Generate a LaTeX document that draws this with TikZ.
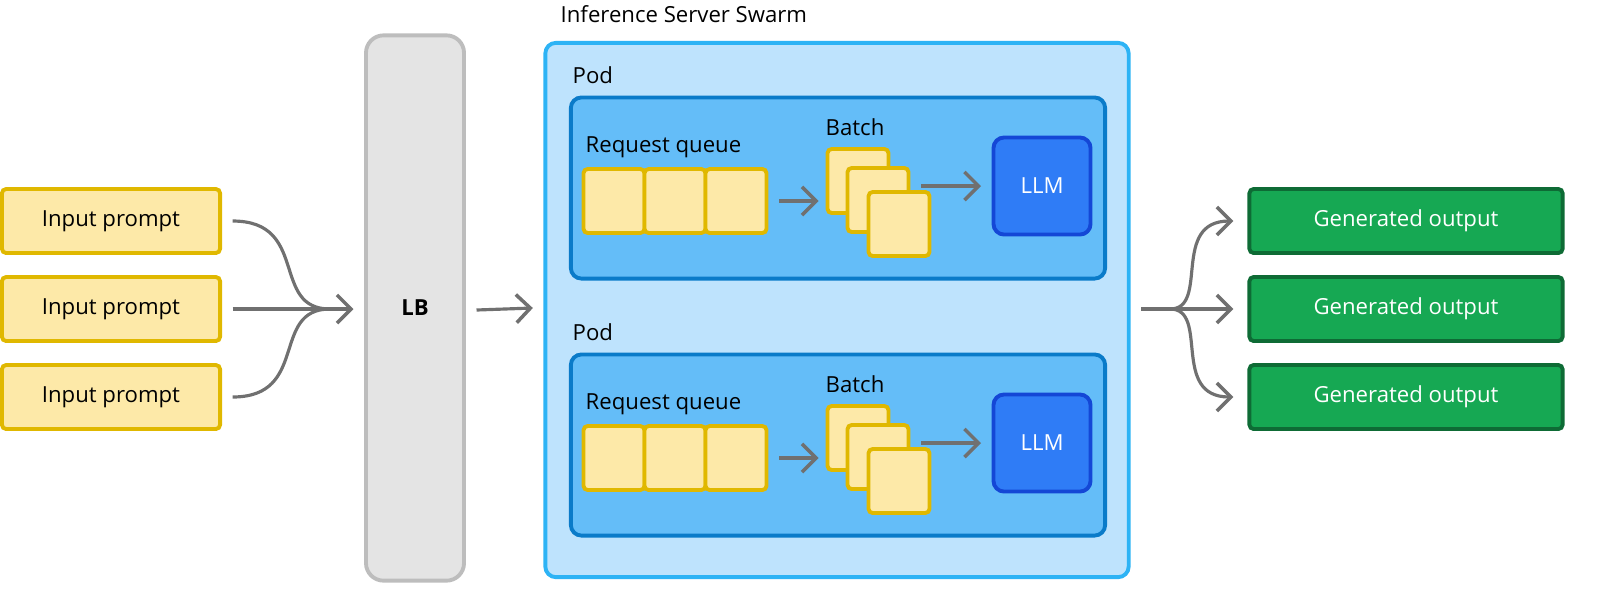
\documentclass[tikz,border=0pt]{standalone}
\usepackage{fontspec}
\setmainfont{Open Sans}
\usetikzlibrary{arrows.meta}
\definecolor{ylwfill}{HTML}{FDE9A8}
\definecolor{ylwdraw}{HTML}{E0B800}
\definecolor{lbfill}{HTML}{E4E4E4}
\definecolor{lbdraw}{HTML}{BDBDBD}
\definecolor{swfill}{HTML}{BEE3FD}
\definecolor{swdraw}{HTML}{2DB3F5}
\definecolor{podfill}{HTML}{64BDF8}
\definecolor{poddraw}{HTML}{0A7BC9}
\definecolor{llmfill}{HTML}{2F7CF6}
\definecolor{llmdraw}{HTML}{1447D6}
\definecolor{outfill}{HTML}{16A853}
\definecolor{outdraw}{HTML}{0E6B35}
\definecolor{connclr}{HTML}{707070}
\tikzset{
  box/.style={draw, line width=1.1pt, rounded corners=1.2pt, inner sep=0pt, font=\fontsize{6.3}{8}\selectfont},
  prompt/.style={box, fill=ylwfill, draw=ylwdraw, minimum width=2.18cm, minimum height=0.64cm},
  cell/.style={box, fill=ylwfill, draw=ylwdraw, minimum width=0.61cm, minimum height=0.64cm},
  output/.style={box, fill=outfill, draw=outdraw, text=white, minimum width=3.13cm, minimum height=0.64cm},
  conn/.style={draw=connclr, line width=0.9pt},
  arr/.style={conn, -{Straight Barb[length=4pt,width=8pt,line width=1pt]}},
  lbl/.style={font=\fontsize{6.3}{8}\selectfont, anchor=west, inner sep=0pt}
}
\begin{document}
\begin{tikzpicture}[x=0.01cm,y=-0.01cm]
  % Inputs and load balancer
  \foreach \i/\y in {1/221,2/309,3/397} {
    \node [prompt] (in\i) at (111,\y) {Input prompt};
  }
  \node [box, fill=lbfill, draw=lbdraw, rounded corners=5pt, minimum width=0.98cm, minimum height=5.45cm] (lb) at (415,308) {\bfseries LB};
  \coordinate (merge) at (330,309);

  % Swarm
  \node [box, fill=swfill, draw=swdraw, rounded corners=3pt, minimum width=5.83cm, minimum height=5.34cm] (swarm) at (837,310) {};
  \node [lbl] (swarmlbl) at (560,14) {Inference Server Swarm};
  \coordinate (split) at (1170,309);

  % Pods
  \foreach \p/\dy in {1/0,2/257} {
    \node [lbl] (podlbl\p) at (572,75+\dy) {Pod};
    \node [box, fill=podfill, draw=poddraw, rounded corners=3pt, minimum width=5.34cm, minimum height=1.81cm] (pod\p) at (838,188+\dy) {};
    \node [lbl] (rqlbl\p) at (585,147+\dy) {Request queue};
    \node [lbl] (batchlbl\p) at (825,127+\dy) {Batch};
    \foreach \c/\x in {1/614,2/675,3/736} {
      \node [cell] (q\p\c) at (\x,201+\dy) {};
    }
    \node [cell] (b\p1) at (858,181+\dy) {};
    \node [cell] (b\p2) at (878,200+\dy) {};
    \node [cell] (b\p3) at (899,224+\dy) {};
    \node [box, fill=llmfill, draw=llmdraw, rounded corners=3pt, text=white, minimum width=0.97cm, minimum height=0.97cm] (llm\p) at (1042,186+\dy) {LLM};
    \draw [arr] (q\p3.east) ++(3pt,0) -- ([xshift=-2pt]b\p1.west |- q\p3.east);
    \draw [arr] ([xshift=3pt]b\p2.east |- llm\p.west) -- ([xshift=-3pt]llm\p.west);
  }

  % Outputs
  \foreach \i/\y in {1/221,2/309,3/397} {
    \node [output] (out\i) at (1406,\y) {Generated output};
  }

  % Connectors
  \draw [conn] (in1.east) ++(3pt,0) .. controls (310,221) and (270,309) .. (merge);
  \draw [conn] (in3.east) ++(3pt,0) .. controls (310,397) and (270,309) .. (merge);
  \draw [arr] (in2.east) ++(3pt,0) -- ([xshift=-3pt]lb.west |- in2.east);
  \draw [arr] ([xshift=3pt]lb.east |- swarm.west) -- ([xshift=-3pt]swarm.west |- lb.east);
  \draw [arr] (split) .. controls (1210,309) and (1170,221) .. ([xshift=-4pt]out1.west);
  \draw [arr] (split) .. controls (1210,309) and (1170,397) .. ([xshift=-4pt]out3.west);
  \draw [arr] ([xshift=3pt]swarm.east |- out2.west) -- ([xshift=-4pt]out2.west);

  \pgfresetboundingbox
  \path [use as bounding box] (0,0) rectangle (1600,596);
\end{tikzpicture}
\end{document}
